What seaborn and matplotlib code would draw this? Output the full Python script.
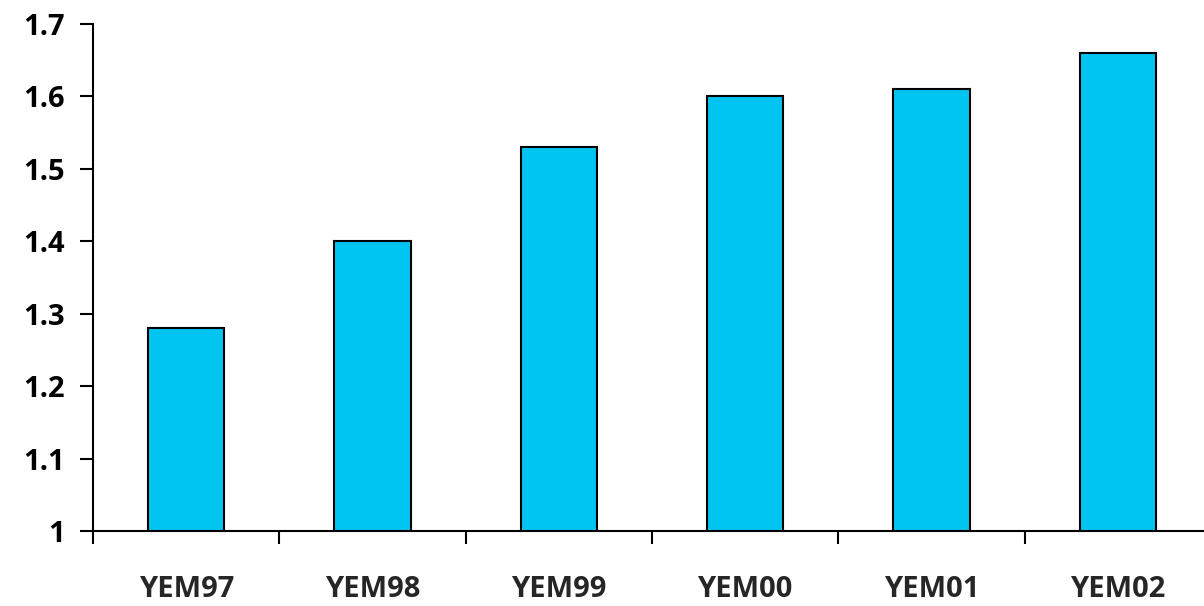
import matplotlib
matplotlib.use("Agg")
import matplotlib.pyplot as plt
import seaborn as sns
from matplotlib.ticker import FixedLocator

categories = ["YEM97", "YEM98", "YEM99", "YEM00", "YEM01", "YEM02"]
values = [1.28, 1.40, 1.53, 1.60, 1.61, 1.66]
y_ticks = [1.0, 1.1, 1.2, 1.3, 1.4, 1.5, 1.6, 1.7]
y_tick_labels = ["1", "1.1", "1.2", "1.3", "1.4", "1.5", "1.6", "1.7"]

sns.set_style("white")
plt.rcParams["font.family"] = ["Open Sans", "DejaVu Sans"]

fig = plt.figure(figsize=(12.04, 6.06), dpi=100)
ax = fig.add_axes([93 / 1204, 75 / 606, 1118 / 1204, 507 / 606])

sns.barplot(x=categories, y=values, color="#00C5F1", edgecolor="black",
            linewidth=1.5, width=0.41, saturation=1, ax=ax)

ax.set_ylim(1.0, 1.7)
ax.set_xlim(-0.5, len(categories) - 0.5)
ax.set_yticks(y_ticks)
ax.set_yticklabels(y_tick_labels, fontsize=21, fontweight="bold")
ax.set_xticks(range(len(categories)))
ax.set_xticklabels(categories, fontsize=21, fontweight="bold")
ax.xaxis.set_minor_locator(FixedLocator([i - 0.5 for i in range(len(categories) + 1)]))

ax.tick_params(axis="y", which="major", left=True, length=9.5, width=1.5,
               direction="out", pad=11, colors="black")
ax.tick_params(axis="x", which="major", bottom=True, length=0, pad=32)
ax.tick_params(axis="x", which="minor", bottom=True, length=9.5, width=1.5,
               direction="out", color="black")

for side in ["top", "right"]:
    ax.spines[side].set_visible(False)
for side in ["left", "bottom"]:
    ax.spines[side].set_color("black")
    ax.spines[side].set_linewidth(1.5)

ax.set_xlabel("")
ax.set_ylabel("")

fig.savefig("out.png", dpi=100)
